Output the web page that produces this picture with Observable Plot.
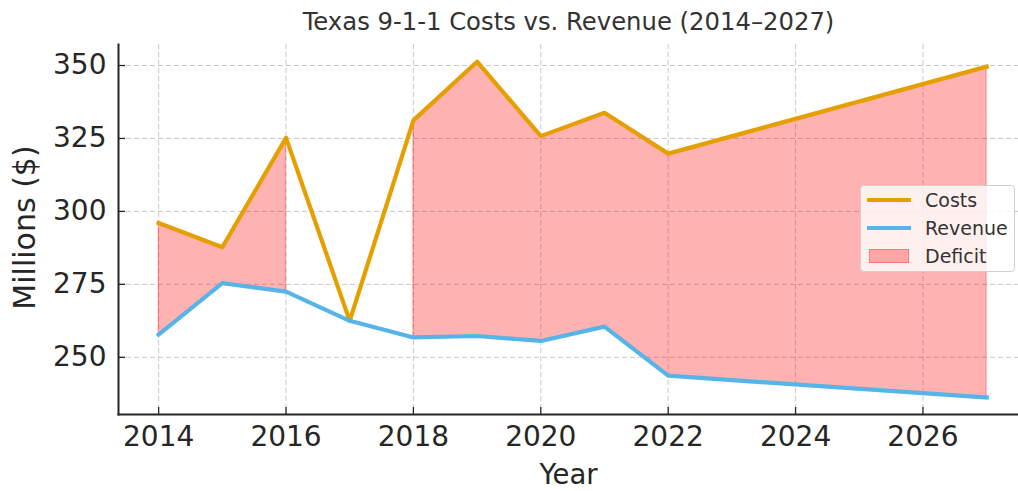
<!DOCTYPE html>
<html>
<head>
<meta charset="utf-8">
<script src="https://cdn.jsdelivr.net/npm/d3@7"></script>
<script src="https://cdn.jsdelivr.net/npm/@observablehq/plot@0.6"></script>
<style>
  html, body { margin: 0; padding: 0; background: #fff; overflow: hidden; }
  #wrap { position: relative; width: 1018px; height: 491px; }
  .legend { position: absolute; left: 860px; top: 185px; width: 155px; height: 87px;
    background: rgba(255,255,255,0.8); border: 1px solid #d0d0d0; border-radius: 4px;
    box-sizing: border-box; font-family: "DejaVu Sans", sans-serif; font-size: 19px; color: #333; }
  .item { position: absolute; left: 0; height: 28px; display: flex; align-items: center; }
  .item span.h { display: inline-block; margin-left: 6px; width: 44px; }
  .item span.t { margin-left: 14px; }
</style>
</head>
<body>
<div id="wrap"></div>
<script>
const title = "Texas 9-1-1 Costs vs. Revenue (2014–2027)";
const xLabel = "Year";
const yLabel = "Millions ($)";
const years   = [2014, 2015, 2016, 2017, 2018, 2019, 2020, 2021, 2022, 2027];
const costs   = [296.0, 287.7, 325.2, 262.5, 331.2, 351.3, 325.8, 333.8, 319.8, 349.6];
const revenue = [257.8, 275.4, 272.5, 262.5, 256.8, 257.3, 255.6, 260.5, 243.7, 236.2];
const xTicks = [2014, 2016, 2018, 2020, 2022, 2024, 2026];
const yTicks = [250, 275, 300, 325, 350];
const seriesNames = ["Costs", "Revenue", "Deficit"];
const colors = {Costs: "#E69F00", Revenue: "#56B4E9", Deficit: "red"};

const data = years.map((y, i) => ({year: y, costs: costs[i], revenue: revenue[i]}));

const chart = Plot.plot({
  width: 1018,
  height: 491,
  marginTop: 44,
  marginBottom: 77,
  marginLeft: 118,
  marginRight: 0,
  style: {fontFamily: "DejaVu Sans, sans-serif", background: "#fff", color: "#262626", overflow: "visible"},
  x: {domain: [2013.37, 2027.5]},
  y: {domain: [230.4, 357.2]},
  marks: [
    Plot.gridX(xTicks, {stroke: "#c8c8c8", strokeOpacity: 1, strokeDasharray: "5,3", strokeWidth: 1}),
    Plot.gridY(yTicks, {stroke: "#c8c8c8", strokeOpacity: 1, strokeDasharray: "5,3", strokeWidth: 1}),
    Plot.areaY(data, {
      x: "year",
      y1: "revenue",
      y2: d => d.costs > d.revenue ? d.costs : NaN,
      fill: colors.Deficit, fillOpacity: 0.3,
      stroke: colors.Deficit, strokeOpacity: 0.3, strokeWidth: 1.2
    }),
    Plot.lineY(data, {x: "year", y: "costs", stroke: colors.Costs, strokeWidth: 4.2, strokeLinejoin: "round", strokeLinecap: "square"}),
    Plot.lineY(data, {x: "year", y: "revenue", stroke: colors.Revenue, strokeWidth: 4.2, strokeLinejoin: "round", strokeLinecap: "square"}),
    Plot.axisX(xTicks, {tickFormat: d => String(d), tickSize: -7, tickPadding: 19, fontSize: 28, stroke: "#262626", strokeWidth: 1.3, label: null, fill: "#262626"}),
    Plot.axisY(yTicks, {tickSize: -7, tickPadding: 19, fontSize: 28, stroke: "#262626", strokeWidth: 1.3, label: null, fill: "#262626"}),
    Plot.frame({anchor: "bottom", stroke: "#262626", strokeWidth: 2}),
    Plot.frame({anchor: "left", stroke: "#262626", strokeWidth: 2}),
    Plot.text([yLabel], {frameAnchor: "left", textAnchor: "middle", rotate: -90, dx: -93, dy: -2, fontSize: 30, fill: "#262626", lineAnchor: "middle"}),
    Plot.text([xLabel], {frameAnchor: "bottom", dy: 61, fontSize: 27.5, fill: "#262626", lineAnchor: "middle"}),
    Plot.text([title], {frameAnchor: "top", dy: -22, fontSize: 24.3, fill: "#333", lineAnchor: "middle"})
  ]
});

const wrap = document.getElementById("wrap");
wrap.appendChild(chart);

const legend = document.createElement("div");
legend.className = "legend";
seriesNames.forEach((name, i) => {
  const item = document.createElement("div");
  item.className = "item";
  item.style.top = (0 + i * 28) + "px";
  const h = document.createElement("span");
  h.className = "h";
  const t = document.createElement("span");
  t.className = "t";
  t.textContent = name;
  if (name === "Deficit") {
    h.style.height = "14px";
    h.style.marginLeft = "8px";
    h.style.width = "40px";
    h.style.boxSizing = "border-box";
    h.style.background = "rgba(255,0,0,0.3)";
    h.style.border = "1.5px solid rgba(255,0,0,0.3)";
    t.style.marginLeft = "16px";
  } else {
    h.style.height = "4px";
    h.style.background = colors[name];
  }
  item.appendChild(h);
  item.appendChild(t);
  legend.appendChild(item);
});
wrap.appendChild(legend);
</script>
</body>
</html>
